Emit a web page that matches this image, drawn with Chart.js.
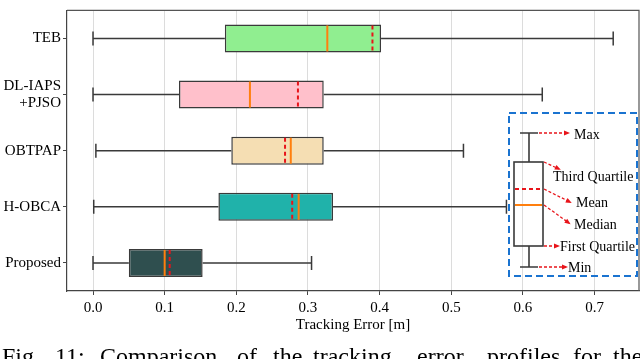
<!DOCTYPE html>
<html>
<head>
<meta charset="utf-8">
<script src="https://cdn.jsdelivr.net/npm/chart.js@4/dist/chart.umd.min.js"></script>
<style>
  html, body { margin: 0; padding: 0; background: #fff; }
  #wrap { width: 640px; height: 359px; }
</style>
</head>
<body>
<div id="wrap"><canvas id="boxChart" width="640" height="359"></canvas></div>
<script>
// box statistics (tracking error in m)
const methods = [['TEB'], ['DL-IAPS', '+PJSO'], ['OBTPAP'], ['H-OBCA'], ['Proposed']];
const minVals = [0.000, 0.000, 0.004, 0.001, 0.000];
const q1Vals = [0.184, 0.120, 0.193, 0.175, 0.050];
const medianVals = [0.327, 0.219, 0.276, 0.287, 0.100];
const meanVals = [0.390, 0.286, 0.268, 0.278, 0.107];
const q3Vals = [0.402, 0.322, 0.322, 0.335, 0.153];
const maxVals = [0.726, 0.627, 0.517, 0.577, 0.305];
const boxColors = ['#90ee90', '#ffc0cb', '#f5deb3', '#20b2aa', '#2f4f4f'];
const xTicks = [0.0, 0.1, 0.2, 0.3, 0.4, 0.5, 0.6, 0.7];

const keyLabels = ['Max', 'Third Quartile', 'Mean', 'Median', 'First Quartile', 'Min'];
const captionWords = ['Fig.', '11:', 'Comparison', 'of', 'the', 'tracking', 'error', 'profiles', 'for', 'the'];
const captionStarts = [2, 55, 100, 237, 273, 313, 417, 487, 573, 613];

const serif = "'Liberation Serif', 'Times New Roman', serif";
Chart.defaults.font.family = serif;
Chart.defaults.color = '#000';

const edge = '#3a3a3a';

function arrow(ctx, x1, y1, x2, y2) {
    ctx.save();
    ctx.strokeStyle = '#e8141a';
    ctx.fillStyle = '#e8141a';
    ctx.lineWidth = 1.3;
    ctx.setLineDash([3, 2]);
    ctx.beginPath();
    ctx.moveTo(x1, y1);
    ctx.lineTo(x2, y2);
    ctx.stroke();
    ctx.setLineDash([]);
    const a = Math.atan2(y2 - y1, x2 - x1);
    ctx.beginPath();
    ctx.moveTo(x2 + 2 * Math.cos(a), y2 + 2 * Math.sin(a));
    ctx.lineTo(x2 - 4 * Math.cos(a) + 2.5 * Math.sin(a), y2 - 4 * Math.sin(a) - 2.5 * Math.cos(a));
    ctx.lineTo(x2 - 4 * Math.cos(a) - 2.5 * Math.sin(a), y2 - 4 * Math.sin(a) + 2.5 * Math.cos(a));
    ctx.closePath();
    ctx.fill();
    ctx.restore();
}

const whiskerPlugin = {
    id: 'whiskers',
    beforeDraw(chart) {
        const ctx = chart.ctx;
        ctx.save();
        ctx.fillStyle = '#fff';
        ctx.fillRect(0, 0, chart.width, chart.height);
        ctx.restore();
    },
    afterDatasetsDraw(chart) {
        const ctx = chart.ctx;
        const xs = chart.scales.x;
        const meta = chart.getDatasetMeta(0);
        ctx.save();
        methods.forEach((m, i) => {
            const bar = meta.data[i];
            const yc = bar.y;
            const h = bar.height;
            const px = v => xs.getPixelForValue(v);
            ctx.strokeStyle = edge;
            ctx.lineWidth = 1.5;
            ctx.setLineDash([]);
            ctx.beginPath();
            ctx.moveTo(px(minVals[i]), yc);
            ctx.lineTo(px(q1Vals[i]), yc);
            ctx.moveTo(px(q3Vals[i]), yc);
            ctx.lineTo(px(maxVals[i]), yc);
            ctx.moveTo(px(minVals[i]), yc - h / 4);
            ctx.lineTo(px(minVals[i]), yc + h / 4);
            ctx.moveTo(px(maxVals[i]), yc - h / 4);
            ctx.lineTo(px(maxVals[i]), yc + h / 4);
            ctx.stroke();
            // median
            ctx.strokeStyle = '#ff7f0e';
            ctx.lineWidth = 2;
            ctx.beginPath();
            ctx.moveTo(px(medianVals[i]), yc - h / 2 + 1);
            ctx.lineTo(px(medianVals[i]), yc + h / 2 - 1);
            ctx.stroke();
            // mean
            ctx.strokeStyle = '#e8141a';
            ctx.setLineDash([4, 3]);
            ctx.beginPath();
            ctx.moveTo(px(meanVals[i]), yc - h / 2 + 1);
            ctx.lineTo(px(meanVals[i]), yc + h / 2 - 1);
            ctx.stroke();
        });
        ctx.restore();
    },
    afterDraw(chart) {
        const ctx = chart.ctx;
        const area = chart.chartArea;
        ctx.save();
        // top and right spines
        ctx.strokeStyle = '#555';
        ctx.lineWidth = 1.2;
        ctx.beginPath();
        ctx.moveTo(area.left, area.top);
        ctx.lineTo(area.right, area.top);
        ctx.lineTo(area.right, area.bottom);
        ctx.stroke();

        // key explaining the box parts
        const L = 509, T = 113, R = 637, B = 276;
        ctx.strokeStyle = '#1a73d0';
        ctx.lineWidth = 2;
        ctx.setLineDash([7, 4]);
        ctx.strokeRect(L, T, R - L, B - T);
        ctx.setLineDash([]);

        const cx = 529, bl = 514, br = 543;
        const yMax = 133, yQ3 = 162, yMean = 189, yMed = 205, yQ1 = 246, yMin = 267;
        ctx.strokeStyle = edge;
        ctx.lineWidth = 1.6;
        ctx.beginPath();
        ctx.moveTo(520, yMax); ctx.lineTo(538, yMax);
        ctx.moveTo(cx, yMax); ctx.lineTo(cx, yQ3);
        ctx.moveTo(cx, yQ1); ctx.lineTo(cx, yMin);
        ctx.moveTo(520, yMin); ctx.lineTo(538, yMin);
        ctx.stroke();
        ctx.strokeRect(bl, yQ3, br - bl, yQ1 - yQ3);
        ctx.strokeStyle = '#ff7f0e';
        ctx.lineWidth = 2;
        ctx.beginPath();
        ctx.moveTo(bl + 1, yMed); ctx.lineTo(br - 1, yMed);
        ctx.stroke();
        ctx.strokeStyle = '#e8141a';
        ctx.setLineDash([4, 3]);
        ctx.beginPath();
        ctx.moveTo(bl + 1, yMean); ctx.lineTo(br - 1, yMean);
        ctx.stroke();
        ctx.setLineDash([]);

        arrow(ctx, 539, yMax, 568, yMax);
        arrow(ctx, 544, yQ3, 559, 169);
        arrow(ctx, 544, yMean, 570, 202);
        arrow(ctx, 544, yMed, 569, 223);
        arrow(ctx, 544, yQ1, 558, yQ1);
        arrow(ctx, 539, yMin, 566, yMin);

        ctx.fillStyle = '#000';
        ctx.font = '14px ' + serif;
        ctx.textBaseline = 'middle';
        const keyPos = [[574, 135], [553, 177], [576, 203], [574, 225], [560, 247], [568, 268]];
        keyLabels.forEach((t, i) => ctx.fillText(t, keyPos[i][0], keyPos[i][1]));

        // caption, cut at the bottom edge like the source
        ctx.font = '24px ' + serif;
        ctx.textBaseline = 'alphabetic';
        captionWords.forEach((w, i) => ctx.fillText(w, captionStarts[i], 364));
        ctx.restore();
    }
};

new Chart(document.getElementById('boxChart'), {
    type: 'bar',
    data: {
        labels: methods,
        datasets: [{
            label: 'Tracking error',
            data: methods.map((m, i) => [q1Vals[i], q3Vals[i]]),
            backgroundColor: boxColors,
            borderColor: edge,
            borderWidth: 1.5,
            borderSkipped: false,
            barPercentage: 0.5,
            categoryPercentage: 1.0
        }]
    },
    options: {
        indexAxis: 'y',
        responsive: false,
        animation: false,
        devicePixelRatio: 1,
        layout: { padding: { top: 1, right: 1, left: 0, bottom: 25 } },
        plugins: {
            legend: { display: false },
            tooltip: { enabled: false }
        },
        scales: {
            x: {
                type: 'linear',
                min: -0.0363,
                max: 0.762,
                afterBuildTicks: axis => {
                    axis.ticks = xTicks.map(v => ({ value: v }));
                },
                afterFit: axis => { axis.height = 43; },
                ticks: {
                    callback: v => Number(v).toFixed(1),
                    font: { size: 15 },
                    color: '#000',
                    padding: 4,
                    maxRotation: 0
                },
                grid: {
                    color: '#dcdcdc',
                    lineWidth: 1,
                    tickLength: 4,
                    tickColor: '#444'
                },
                border: { color: '#444', width: 1.2 },
                title: {
                    display: true,
                    text: 'Tracking Error [m]',
                    font: { size: 15 },
                    color: '#000',
                    padding: { top: 0, bottom: 0 }
                }
            },
            y: {
                type: 'category',
                offset: true,
                afterFit: axis => { axis.width = 67; },
                ticks: {
                    font: { size: 15, lineHeight: 1.12 },
                    color: '#000',
                    padding: 2
                },
                grid: {
                    offset: false,
                    drawOnChartArea: false,
                    tickLength: 4,
                    tickColor: '#444'
                },
                border: { color: '#444', width: 1.2 }
            }
        }
    },
    plugins: [whiskerPlugin]
});
</script>
</body>
</html>
